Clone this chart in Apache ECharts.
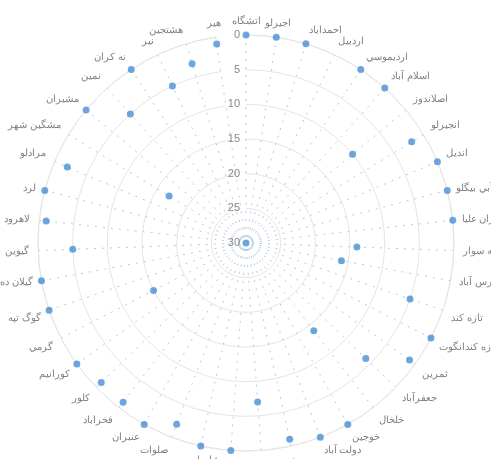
<!DOCTYPE html>
<html>
<head>
<meta charset="utf-8">
<script src="https://cdn.jsdelivr.net/npm/echarts@6/dist/echarts.min.js"></script>
<style>html,body{margin:0;padding:0;background:#fff;}#c{width:491px;height:459px;}</style>
</head>
<body>
<div id="c"></div>
<script>
const categories = ['اتشگاه','اجيرلو','احمداباد','اردبيل','اردیموسي','اسلام آباد','اصلاندوز','انجيرلو','انديل','آبي بيگلو','بران عليا','بيله سوار','پارس آباد','تازه كند','تازه كندانگوت','ثمرين','جعفرآباد','خلخال','خوجين','دولت آباد','رضي','سرعين','شال','شام اسبي','صلوات','عنبران','فخراباد','كلور','كورانيم','گرمي','گوگ تپه','گيلان ده','گيوين','لاهرود','لرد','مرادلو','مشگين شهر','مشيران','نمين','نه كران','نير','هشتجين','هير'];
const values = [0,0,0,30,0,0,10,2,0,0,0,14,16,5,0,1,6,14,0,0,1,7,0,0,2,0,1,1,0,15,0,0,5,1,0,2,17,0,5,0,5,3,1];
const radiusTicks = [0,5,10,15,20,25,30];

const chart = echarts.init(document.getElementById('c'));
chart.setOption({
  animation: false,
  polar: { center: [246, 243], radius: 208 },
  angleAxis: {
    type: 'category',
    data: categories,
    boundaryGap: false,
    startAngle: 90,
    clockwise: true,
    axisLine: { show: true, lineStyle: { color: '#e4e4e4' } },
    axisTick: { show: false, interval: 0 },
    axisLabel: { color: '#808080', fontSize: 10, margin: 9, interval: 0 },
    splitLine: { show: true, interval: 0, lineStyle: { color: '#b3c8e0', type: [2, 6], width: 1 } }
  },
  radiusAxis: {
    type: 'value',
    min: radiusTicks[0],
    max: radiusTicks[radiusTicks.length - 1],
    interval: 5,
    inverse: true,
    axisLine: { show: false },
    axisTick: { show: false },
    axisLabel: { color: '#888', fontSize: 11, margin: 6 },
    splitLine: { show: true, lineStyle: { color: '#e4e4e4', width: 1 } }
  },
  series: [{
    type: 'scatter',
    coordinateSystem: 'polar',
    symbolSize: 7,
    itemStyle: { color: '#4a8fd4' },
    data: categories.map((c, i) => [values[i], c])
  }]
});
</script>
</body>
</html>
